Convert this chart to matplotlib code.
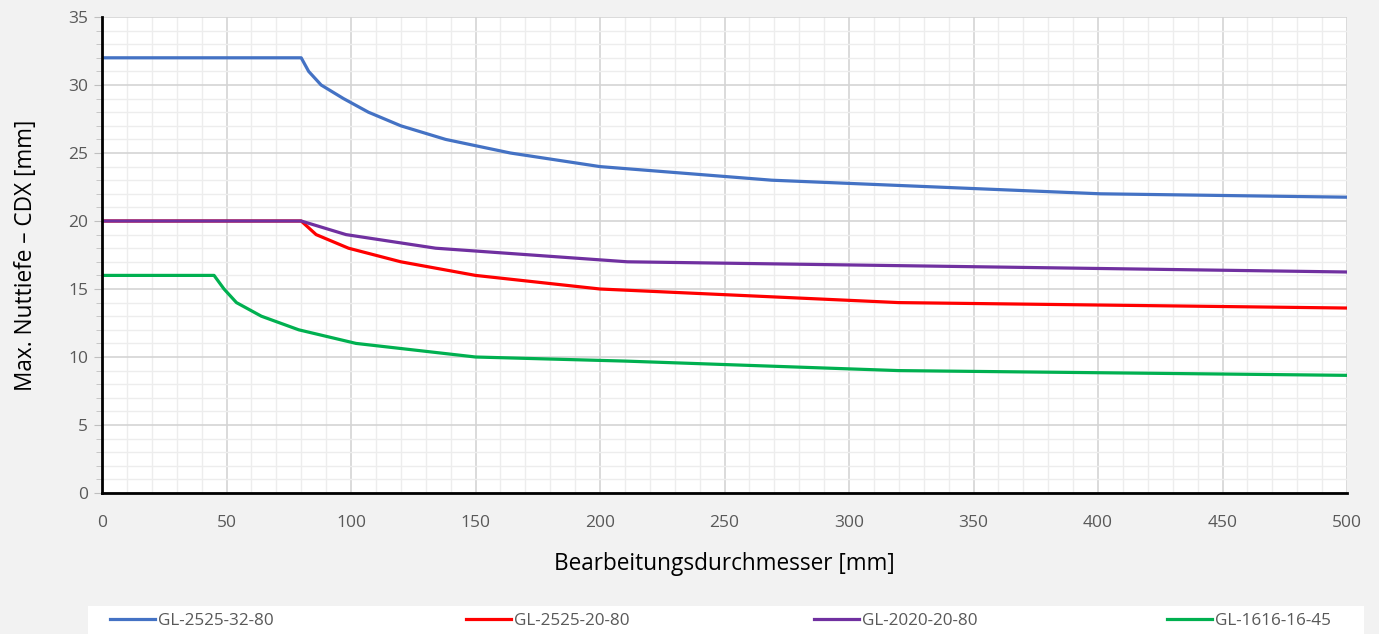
import matplotlib.pyplot as plt
from matplotlib.patches import Rectangle
from matplotlib.ticker import MultipleLocator

plt.rcParams['font.family'] = ['Open Sans', 'DejaVu Sans']

# data
x_blue = [0, 80, 83, 88, 97, 107, 120, 138, 164, 200, 269, 401, 500]
y_blue = [32, 32, 31, 30, 29, 28, 27, 26, 25, 24, 23, 22, 21.75]

x_red = [0, 80, 86, 99, 120, 150, 200, 320, 500]
y_red = [20, 20, 19, 18, 17, 16, 15, 14, 13.6]

x_purple = [0, 80, 98, 134, 211, 500]
y_purple = [20, 20, 19, 18, 17, 16.25]

x_green = [0, 45, 49, 54, 64, 79, 102, 150, 210, 320, 500]
y_green = [16, 16, 15, 14, 13, 12, 11, 10, 9.7, 9, 8.65]

labels = ["GL-2525-32-80", "GL-2525-20-80", "GL-2020-20-80", "GL-1616-16-45"]
colors = ["#4472C4", "#FF0000", "#7030A0", "#00B050"]

W, H = 1379, 634
fig = plt.figure(figsize=(W / 100, H / 100), dpi=100, facecolor="#f2f2f2")
ax = fig.add_axes([102 / W, 1 - 493 / H, (1347 - 102) / W, (493 - 17) / H])
ax.set_facecolor("white")

series = [(x_blue, y_blue), (x_red, y_red), (x_purple, y_purple), (x_green, y_green)]
handles = []
for (xs, ys), c, lab in zip(series, colors, labels):
	h, = ax.plot(xs, ys, color=c, lw=2.3, label=lab, solid_joinstyle="round", zorder=3)
	handles.append(h)

ax.set_xlim(0, 500)
ax.set_ylim(0, 35)
ax.xaxis.set_major_locator(MultipleLocator(50))
ax.xaxis.set_minor_locator(MultipleLocator(10))
ax.yaxis.set_major_locator(MultipleLocator(5))
ax.yaxis.set_minor_locator(MultipleLocator(1))

ax.grid(which="major", color="#d4d4d4", lw=1.2, zorder=1)
ax.grid(which="minor", color="#ededed", lw=1.0, zorder=0)
ax.set_axisbelow(True)

for s in ["top", "right"]:
	ax.spines[s].set_visible(False)
for s in ["left", "bottom"]:
	ax.spines[s].set_color("black")
	ax.spines[s].set_linewidth(2)
	ax.spines[s].set_zorder(4)

ax.tick_params(axis="x", which="both", length=0, pad=16, labelsize=12.5, labelcolor="#595959")
ax.tick_params(axis="y", which="major", length=6, color="#bfbfbf", pad=4, labelsize=12.5, labelcolor="#595959")
ax.tick_params(axis="y", which="minor", length=4, color="#bfbfbf")

ax.set_xlabel("Bearbeitungsdurchmesser [mm]", fontsize=16.3, color="black", labelpad=15)
ax.set_ylabel("Max. Nuttiefe – CDX [mm]", fontsize=16.3, color="black", labelpad=22)

# legend box
fig.patches.append(Rectangle((88 / W, 0), (1364 - 88) / W, 28 / H, transform=fig.transFigure,
	facecolor="white", edgecolor="none", zorder=0))
starts = [110, 466, 814, 1167]
for h, x0 in zip(handles, starts):
	leg = fig.legend(handles=[h], loc="center left", bbox_to_anchor=(x0 / W, 13 / H),
		frameon=False, fontsize=12.3, handlelength=2.65, handletextpad=0.15,
		borderpad=0, borderaxespad=0, labelcolor="#595959")
	for line in leg.get_lines():
		line.set_linewidth(2.3)

fig.savefig("out.png", dpi=100, facecolor=fig.get_facecolor())
